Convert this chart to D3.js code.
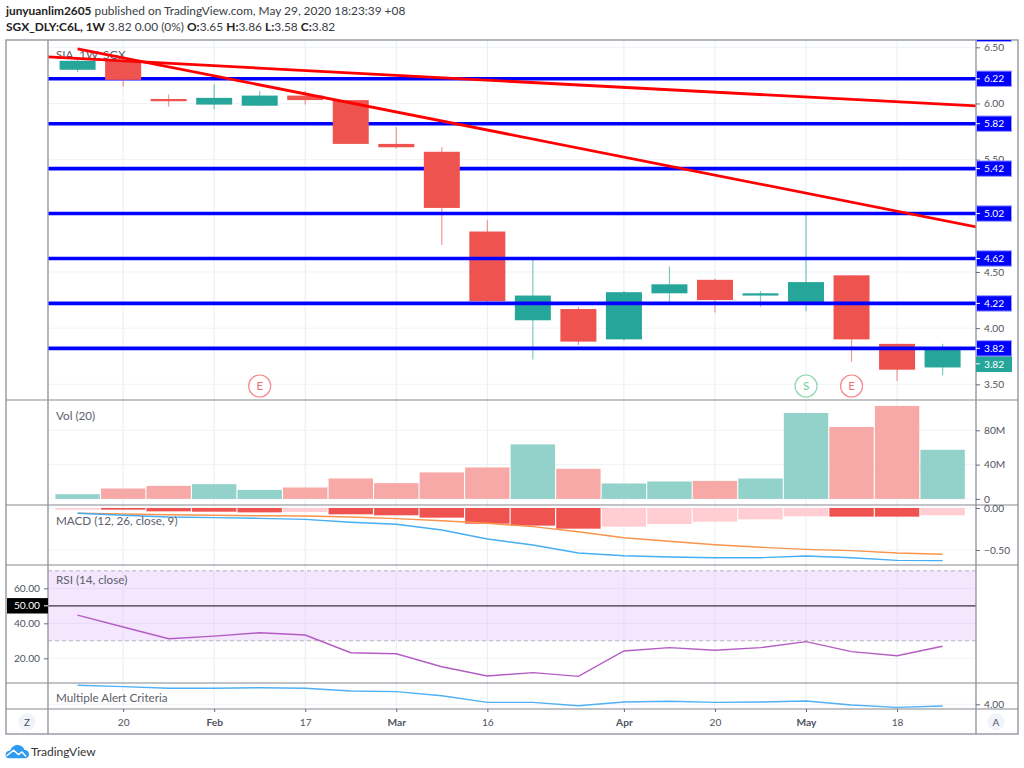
<!DOCTYPE html>
<html>
<head>
<meta charset="utf-8">
<script src="https://cdn.jsdelivr.net/npm/d3@7"></script>
<style>
  body { margin: 0; background: #fff; }
  svg { display: block; }
  text { font-family: Lato, sans-serif; }
</style>
</head>
<body>
<div id="chart"></div>
<script>
// weekly bars
const weeks = ["Jan 13", "Jan 20", "Jan 27", "Feb 3", "Feb 10", "Feb 17", "Feb 24", "Mar 2", "Mar 9", "Mar 16",
               "Mar 23", "Mar 30", "Apr 6", "Apr 13", "Apr 20", "Apr 27", "May 4", "May 11", "May 18", "May 25"]
const opens  = [6.30, 6.38, 6.04, 5.99, 5.98, 6.07, 6.03, 5.64, 5.57, 4.86, 4.07, 4.17, 3.90, 4.31, 4.43, 4.29, 4.23, 4.47, 3.86, 3.65]
const highs  = [6.41, 6.40, 6.08, 6.17, 6.11, 6.11, 6.03, 5.79, 5.61, 4.96, 4.61, 4.19, 4.33, 4.55, 4.44, 4.33, 5.03, 4.47, 3.86, 3.86]
const lows   = [6.28, 6.15, 5.97, 5.95, 5.98, 5.99, 5.64, 5.60, 4.74, 4.23, 3.72, 3.85, 3.89, 4.23, 4.14, 4.19, 4.15, 3.70, 3.53, 3.58]
const closes = [6.38, 6.21, 6.02, 6.05, 6.07, 6.03, 5.64, 5.61, 5.07, 4.24, 4.29, 3.88, 4.32, 4.39, 4.25, 4.31, 4.41, 3.90, 3.63, 3.82]

const volumes = [5.5, 12.1, 15.2, 17.2, 10.5, 13.3, 23.8, 18.4, 30.9, 36.7, 63.6, 35.1, 18, 20.3, 21, 23.8, 100.2, 83.9, 108.4, 57.3]

const macdHist = [-0.02, -0.02, -0.04, -0.044, -0.052, -0.048, -0.075, -0.087, -0.115, -0.187, -0.21, -0.246, -0.222, -0.19, -0.163, -0.135, -0.099, -0.103, -0.103, -0.087]
const macdLine = [-0.063, -0.087, -0.107, -0.115, -0.123, -0.135, -0.17, -0.194, -0.262, -0.369, -0.44, -0.536, -0.568, -0.583, -0.592, -0.592, -0.571, -0.592, -0.623, -0.627]
const macdSignal = [-0.063, -0.071, -0.08, -0.087, -0.092, -0.095, -0.107, -0.127, -0.151, -0.182, -0.222, -0.282, -0.354, -0.396, -0.437, -0.468, -0.492, -0.508, -0.536, -0.551]

const rsi = [44.7, 37.9, 31.2, 32.7, 34.6, 33.3, 23.2, 22.6, 15.2, 9.9, 11.8, 9.7, 24.2, 26.1, 24.6, 26.1, 29.5, 23.8, 21.5, 26.9]
const alertCriteria = [6.32, 6.15, 5.95, 5.95, 6.02, 5.95, 5.62, 5.54, 5.05, 4.24, 4.24, 3.83, 4.28, 4.37, 4.24, 4.28, 4.40, 3.91, 3.63, 3.79]

// horizontal levels drawn by hand on the chart
const levelsBehind = [6.62, 6.22, 5.82, 5.42]
const levelsFront = [5.02, 4.62, 4.22, 3.82]
// trend lines as [bar index, price]
const trendA = [[-0.65, 6.414], [19.74, 5.978]]
const trendB = [[0, 6.487], [19.74, 4.901]]

const timeTicks = [1, 3, 5, 7, 9, 12, 14, 16, 18]
const timeLabels = ["20", "Feb", "17", "Mar", "16", "Apr", "20", "May", "18"]
const monthLabels = ["Feb", "Mar", "Apr", "May"]

const priceTicks = [6.5, 6, 5.5, 4.5, 4, 3.5]
const volumeTicks = [0, 40, 80]
const macdTicks = [0, -0.5]
const rsiTicks = [20, 40, 60]
const alertTicks = [4]
const events = [{i: 4, letter: "E"}, {i: 16, letter: "S"}, {i: 17, letter: "E"}]

const width = 1024, height = 768
const left = 48, right = 976, frameL = 6, frameR = 1018
const frameT = 40, mainB = 400, volB = 505, macdB = 565, rsiB = 683, alertB = 709, frameB = 734

const green = "#26a69a", red = "#ef5350"
const greyText = "#50535e", frameCol = "#9598a1", gridCol = "#eef3f7", vGridCol = "#e4eef4"

const x = d3.scaleLinear().domain([0, 19]).range([77.6, 942.6])
const yPrice = d3.scaleLinear().domain([3.5, 6.5]).range([384.3, 47.3])
const yVol = d3.scaleLinear().domain([0, 80]).range([498.9, 430.3])
const yMacd = d3.scaleLinear().domain([-0.5, 0]).range([550, 508])
const yRsi = d3.scaleLinear().domain([20, 60]).range([658.3, 588.3])
const yAlert = d3.scaleLinear().domain([3, 4]).range([712.5, 704.3])

const svg = d3.select("#chart").append("svg")
    .attr("width", width)
    .attr("height", height)

const defs = svg.append("defs")
function addClip(id, y0, y1) {
    defs.append("clipPath").attr("id", id).append("rect")
        .attr("x", left).attr("y", y0).attr("width", right - left).attr("height", y1 - y0)
}
addClip("clipMain", frameT, mainB)
defs.append("clipPath").attr("id", "clipLabels").append("rect")
    .attr("x", right).attr("y", frameT).attr("width", frameR - right).attr("height", mainB - frameT)

// header
const header = svg.append("text").attr("x", 6).attr("y", 15).attr("font-size", 11.9).attr("fill", "#3a3d45")
header.append("tspan").attr("font-weight", 700).attr("fill", "#222").text("junyuanlim2605")
header.append("tspan").text(" published on TradingView.com, May 29, 2020 18:23:39 +08")

const sub = svg.append("text").attr("x", 6).attr("y", 31).attr("font-size", 11.9).attr("fill", "#3a3d45")
sub.append("tspan").attr("font-weight", 700).attr("fill", "#222").text("SGX_DLY:C6L, 1W")
sub.append("tspan").text("  3.82 0.00 (0%) ")
for (let [k, v] of [["O:", "3.65 "], ["H:", "3.86 "], ["L:", "3.58 "], ["C:", "3.82"]]) {
    sub.append("tspan").attr("font-weight", 700).attr("fill", "#222").text(k)
    sub.append("tspan").text(v)
}

// grid
const grid = svg.append("g")
grid.selectAll("line.v").data(timeTicks).join("line")
    .attr("x1", d => x(d)).attr("x2", d => x(d))
    .attr("y1", frameT).attr("y2", alertB)
    .attr("stroke", vGridCol)
function hGrid(ticks, scale) {
    grid.selectAll(null).data(ticks).join("line")
        .attr("x1", left).attr("x2", right)
        .attr("y1", d => scale(d)).attr("y2", d => scale(d))
        .attr("stroke", gridCol)
}
hGrid(priceTicks, yPrice)
hGrid(volumeTicks, yVol)
hGrid(macdTicks, yMacd)
hGrid(alertTicks, yAlert)

// RSI band sits over the grid
const rsiPane = svg.append("g")
rsiPane.append("rect")
    .attr("x", left).attr("width", right - left)
    .attr("y", yRsi(70)).attr("height", yRsi(30) - yRsi(70))
    .attr("fill", "#f3e6fd")
hGridInto(rsiPane, rsiTicks)
function hGridInto(g, ticks) {
    g.selectAll(null).data(ticks).join("line")
        .attr("x1", left).attr("x2", right)
        .attr("y1", d => yRsi(d)).attr("y2", d => yRsi(d))
        .attr("stroke", d => d == 20 ? gridCol : "#e8daf6")
    g.selectAll(null).data(timeTicks).join("line")
        .attr("x1", d => x(d)).attr("x2", d => x(d))
        .attr("y1", yRsi(70)).attr("y2", yRsi(30))
        .attr("stroke", "#e4def5")
}
rsiPane.selectAll(null).data([70, 30]).join("line")
    .attr("x1", left).attr("x2", right)
    .attr("y1", d => yRsi(d)).attr("y2", d => yRsi(d))
    .attr("stroke", "#b7b3bd").attr("stroke-dasharray", "4,3")
rsiPane.append("line")
    .attr("x1", left).attr("x2", right)
    .attr("y1", yRsi(50)).attr("y2", yRsi(50))
    .attr("stroke", "#3d3244").attr("stroke-width", 1.2)

// main pane
const main = svg.append("g").attr("clip-path", "url(#clipMain)")

function drawLevels(levels) {
    main.selectAll(null).data(levels).join("line")
        .attr("x1", left).attr("x2", right)
        .attr("y1", d => yPrice(d)).attr("y2", d => yPrice(d))
        .attr("stroke", "#0000ff").attr("stroke-width", 3.6)
}
drawLevels(levelsBehind)

const candles = main.append("g")
const candleCol = i => closes[i] >= opens[i] ? green : red
candles.selectAll("line").data(d3.range(weeks.length)).join("line")
    .attr("x1", i => x(i)).attr("x2", i => x(i))
    .attr("y1", i => yPrice(highs[i])).attr("y2", i => yPrice(lows[i]))
    .attr("stroke", candleCol).attr("stroke-width", 1.2).attr("stroke-opacity", 0.6)
candles.selectAll("rect").data(d3.range(weeks.length)).join("rect")
    .attr("x", i => x(i) - 18).attr("width", 36)
    .attr("y", i => yPrice(Math.max(opens[i], closes[i])))
    .attr("height", i => Math.abs(yPrice(opens[i]) - yPrice(closes[i])))
    .attr("fill", candleCol)

drawLevels(levelsFront)

main.append("text").attr("x", 56).attr("y", 59).attr("font-size", 11.7).attr("fill", "#5d606b").text("SIA, 1W, SGX")

const trend = d3.line().x(d => x(d[0])).y(d => yPrice(d[1]))
main.selectAll("path.trend").data([trendA, trendB]).join("path")
    .attr("class", "trend")
    .attr("d", trend)
    .attr("fill", "none").attr("stroke", "#ff0000").attr("stroke-width", 2.8)

// earnings / split markers
const marks = svg.append("g").selectAll("g").data(events).join("g")
    .attr("transform", d => `translate(${x(d.i)},386)`)
marks.append("circle").attr("r", 11)
    .attr("fill", "#fff")
    .attr("stroke", d => d.letter == "S" ? "#8fd6ae" : "#f5868c").attr("stroke-width", 1.2)
marks.append("text").attr("text-anchor", "middle").attr("dy", "0.36em").attr("font-size", 11.5)
    .attr("fill", d => d.letter == "S" ? "#6cc894" : "#ef6f76")
    .text(d => d.letter)

// volume
svg.append("g").selectAll("rect").data(volumes).join("rect")
    .attr("x", (d, i) => x(i) - 22.2).attr("width", 44.4)
    .attr("y", d => yVol(d)).attr("height", d => yVol(0) - yVol(d))
    .attr("fill", (d, i) => closes[i] >= opens[i] ? "#93d2cb" : "#f7a9a8")

// macd histogram, dark while it is still falling
svg.append("g").selectAll("rect").data(macdHist).join("rect")
    .attr("x", (d, i) => x(i) - 22.2).attr("width", 44.4)
    .attr("y", yMacd(0)).attr("height", d => yMacd(d) - yMacd(0))
    .attr("fill", (d, i) => i > 0 && d <= macdHist[i - 1] ? red : "#ffcdd2")

function drawSeries(values, scale, colour, sw) {
    svg.append("path")
        .attr("d", d3.line().x((d, i) => x(i)).y(d => scale(d))(values))
        .attr("fill", "none").attr("stroke", colour).attr("stroke-width", sw)
}
drawSeries(macdSignal, yMacd, "#f9944a", 1.4)
drawSeries(macdLine, yMacd, "#46aef5", 1.4)
drawSeries(rsi, yRsi, "#b45cc4", 1.4)
drawSeries(alertCriteria, yAlert, "#4fb0f5", 1.4)

// pane titles
const titles = [["Vol (20)", 420], ["MACD (12, 26, close, 9)", 525], ["RSI (14, close)", 584], ["Multiple Alert Criteria", 702]]
svg.append("g").selectAll("text").data(titles).join("text")
    .attr("x", 56).attr("y", d => d[1]).attr("font-size", 11.7).attr("fill", "#5d606b")
    .text(d => d[0])

// frame and pane separators
const frame = svg.append("g").attr("stroke", frameCol).attr("fill", "none")
frame.append("rect").attr("x", frameL).attr("y", frameT).attr("width", frameR - frameL).attr("height", frameB - frameT).attr("stroke-width", 1.4)
frame.selectAll("line.sep").data([mainB, volB, macdB, rsiB, alertB]).join("line")
    .attr("x1", frameL).attr("x2", frameR).attr("y1", d => d).attr("y2", d => d)
    .attr("stroke-width", 1.2).attr("stroke", "#84878f")
frame.selectAll("line.col").data([left, right]).join("line")
    .attr("x1", d => d).attr("x2", d => d).attr("y1", frameT).attr("y2", frameB)
    .attr("stroke-width", 1.4)

function styleAxis(g) {
    g.select(".domain").remove()
    g.selectAll("line").attr("stroke", "#6a6d78")
    g.selectAll("text").attr("font-size", 10.2).attr("fill", greyText).attr("font-family", "Lato, sans-serif")
}
function rightAxis(scale, ticks, fmt) {
    svg.append("g").attr("transform", `translate(${right},0)`)
        .call(d3.axisRight(scale).tickValues(ticks).tickFormat(fmt).tickSize(4).tickPadding(4))
        .call(styleAxis)
}
const f2 = d3.format(".2f")
rightAxis(yPrice, priceTicks, f2)
rightAxis(yVol, volumeTicks, d => d == 0 ? "0" : d + "M")
rightAxis(yMacd, macdTicks, d => f2(d).replace("-", "\u2212"))
rightAxis(yAlert, alertTicks, f2)

// RSI has its scale on the left
svg.append("g").attr("transform", `translate(${left},0)`)
    .call(d3.axisLeft(yRsi).tickValues(rsiTicks).tickFormat(f2).tickSize(4).tickPadding(4))
    .call(styleAxis)

// blue level tags, last price tag under them
function priceTag(y, colour, label, border) {
    const tag = svg.append("g").attr("clip-path", "url(#clipLabels)")
    tag.append("rect").attr("x", right + 0.5).attr("y", y - 7.7).attr("width", 35).attr("height", 15.4)
        .attr("fill", colour).attr("stroke", border)
    tag.append("line").attr("x1", right).attr("x2", right + 4).attr("y1", y).attr("y2", y).attr("stroke", "#fff")
    tag.append("text").attr("x", right + 8).attr("y", y).attr("dy", "0.36em")
        .attr("font-size", 10.2).attr("fill", "#fff").text(label)
}
// last price tag is pushed down by the 3.82 level tag
priceTag(yPrice(closes[19]) + 15.5, green, f2(closes[19]), green)
for (let l of levelsBehind.concat(levelsFront)) {
    priceTag(yPrice(l), "#0000ff", f2(l), "#9a9aff")
}

// black tag on RSI 50
svg.append("rect").attr("x", 7).attr("y", yRsi(50) - 7.7).attr("width", left - 7).attr("height", 15.4).attr("fill", "#000")
svg.append("line").attr("x1", left - 4).attr("x2", left).attr("y1", yRsi(50)).attr("y2", yRsi(50)).attr("stroke", "#fff")
svg.append("text").attr("x", 40).attr("y", yRsi(50)).attr("dy", "0.36em").attr("text-anchor", "end")
    .attr("font-size", 10.2).attr("fill", "#fff").text("50.00")

// time axis
svg.append("g").attr("transform", `translate(0,${alertB})`)
    .call(d3.axisBottom(x).tickValues(timeTicks).tickFormat((d, i) => timeLabels[i]).tickSize(3).tickPadding(7))
    .call(styleAxis)
    .call(g => g.selectAll("text").attr("font-weight", d => monthLabels.includes(timeLabels[timeTicks.indexOf(d)]) ? 700 : 400))

// Z and A buttons
for (let [cx, letter] of [[27, "Z"], [996, "A"]]) {
    svg.append("circle").attr("cx", cx).attr("cy", 722).attr("r", 8.5).attr("fill", "#f0f3fa")
    svg.append("text").attr("x", cx).attr("y", 722).attr("dy", "0.36em").attr("text-anchor", "middle")
        .attr("font-size", 10).attr("fill", "#50535e").text(letter)
}

// logo
const logo = svg.append("g").attr("transform", "translate(5,744)")
logo.append("path")
    .attr("d", "M0.5 11 C0.5 8 3 6.5 5 6.8 C6.5 2.5 10 0.8 13 1 C16 1.2 18.5 3 19.5 6 C22.5 6 24.3 8.2 24 10.8 C23.8 13 22 14.3 20 14.3 L4 14.3 C2 14.3 0.5 13 0.5 11 Z")
    .attr("fill", "#2e9bf0")
logo.append("path")
    .attr("d", "M1.5 12 L8.5 6.2 L13.5 10.5 L17 8 L21 12.5")
    .attr("fill", "none").attr("stroke", "#fff").attr("stroke-width", 1.4)
svg.append("text").attr("x", 31).attr("y", 755.5).attr("font-size", 12).attr("fill", "#333").text("TradingView")
</script>
</body>
</html>
